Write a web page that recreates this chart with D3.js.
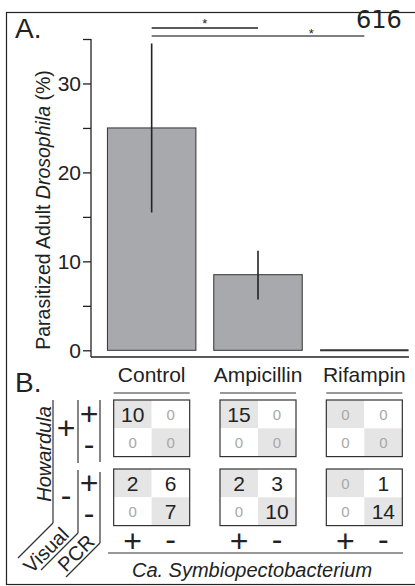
<!DOCTYPE html>
<html>
<head>
<meta charset="utf-8">
<script src="https://cdn.jsdelivr.net/npm/d3@7"></script>
<style>
  body { margin: 0; background: #fff; }
  text { font-family: "Liberation Sans", Arial, sans-serif; fill: #222; }
</style>
</head>
<body>
<script>
// data
const treatments = ["Control", "Ampicillin", "Rifampin"];
const parasitized = [25, 8.5, 0];
const errLow = [15.5, 5.7, 0];
const errHigh = [34.5, 11.2, 0];
const majorTicks = [0, 10, 20, 30];
const allTicks = [0, 5, 10, 15, 20, 25, 30, 35];
const sigPairs = [["Control", "Ampicillin", "*"], ["Control", "Rifampin", "*"]];

// panel B: rows = Howardula visual/PCR, cols = Symbiopectobacterium +/-
const visualLabels = ["+", "-"];
const pcrLabels = ["+", "-"];
const symbLabels = ["+", "-"];
const controlCounts = [[10, 0], [0, 0], [2, 6], [0, 7]];
const ampicillinCounts = [[15, 0], [0, 0], [2, 3], [0, 10]];
const rifampinCounts = [[0, 0], [0, 0], [0, 1], [0, 14]];
const tables = [controlCounts, ampicillinCounts, rifampinCounts];

const width = 415, height = 586;

const svg = d3.select("body").append("svg")
  .attr("width", width)
  .attr("height", height);

// frame
svg.append("rect")
  .attr("x", 6.5).attr("y", 12.5)
  .attr("width", 420).attr("height", 572)
  .attr("fill", "none").attr("stroke", "#222").attr("stroke-width", 1.2);

svg.append("text").attr("x", 356).attr("y", 28)
  .style("font-family", "'DejaVu Sans', sans-serif")
  .style("font-size", "24px").attr("fill", "#111")
  .text("616");

svg.append("text").attr("x", 15).attr("y", 38)
  .style("font-size", "28px").text("A.");
svg.append("text").attr("x", 15).attr("y", 392)
  .style("font-size", "28px").text("B.");

// scales
const y = d3.scaleLinear().domain([0, 35]).range([350.3, 39]);
const x = d3.scaleBand().domain(treatments).range([98.5, 417.5])
  .paddingInner(0.168).paddingOuter(0.084);
const cx = d => x(d) + x.bandwidth() / 2;

// y axis
const yAxis = svg.append("g")
  .attr("transform", "translate(91,0)")
  .call(d3.axisLeft(y).tickValues(allTicks).tickSize(8).tickPadding(2)
    .tickFormat(d => majorTicks.includes(d) ? d : ""));
yAxis.select(".domain").remove();
yAxis.selectAll(".tick line").attr("stroke", "#222").attr("stroke-width", 1.3);
yAxis.selectAll(".tick text")
  .style("font-size", "21px")
  .style("font-family", "'Liberation Sans', Arial, sans-serif")
  .attr("fill", "#222");

const axisBaseY = 357;
svg.append("line").attr("x1", 91).attr("x2", 91)
  .attr("y1", y(35)).attr("y2", axisBaseY)
  .attr("stroke", "#222").attr("stroke-width", 1.3);
svg.append("line").attr("x1", 91).attr("x2", 409)
  .attr("y1", axisBaseY).attr("y2", axisBaseY)
  .attr("stroke", "#222").attr("stroke-width", 1.3);

// y label
const ylab = svg.append("text")
  .attr("transform", `translate(50,${210}) rotate(-90)`)
  .attr("text-anchor", "middle")
  .style("font-size", "19.5px");
ylab.append("tspan").text("Parasitized Adult ");
ylab.append("tspan").style("font-style", "italic").text("Drosophila");
ylab.append("tspan").text(" (%)");

// bars
svg.selectAll(".bar")
  .data(treatments)
  .enter().append("rect")
  .attr("class", "bar")
  .attr("x", d => x(d))
  .attr("width", x.bandwidth())
  .attr("y", (d, i) => y(parasitized[i]))
  .attr("height", (d, i) => y(0) - y(parasitized[i]))
  .attr("fill", "#a8a9ac")
  .attr("stroke", "#333")
  .attr("stroke-width", 1);

// zero-height bars drawn as a flat line
svg.selectAll(".zerobar")
  .data(treatments.filter((d, i) => parasitized[i] === 0))
  .enter().append("line")
  .attr("x1", d => x(d)).attr("x2", d => x(d) + x.bandwidth())
  .attr("y1", y(0)).attr("y2", y(0))
  .attr("stroke", "#333").attr("stroke-width", 2);

// error bars
svg.selectAll(".err")
  .data(treatments.filter((d, i) => errHigh[i] > errLow[i]))
  .enter().append("line")
  .attr("x1", d => cx(d)).attr("x2", d => cx(d))
  .attr("y1", d => y(errHigh[treatments.indexOf(d)]))
  .attr("y2", d => y(errLow[treatments.indexOf(d)]))
  .attr("stroke", "#222").attr("stroke-width", 1.6);

// significance lines; each star sits over the part not covered by the line above
const sigY = [28, 36];
const sigColor = ["#222", "#555"];
let coveredTo = null;
sigPairs.forEach((p, i) => {
  const x1 = cx(p[0]), x2 = cx(p[1]);
  svg.append("line")
    .attr("x1", x1).attr("x2", x2)
    .attr("y1", sigY[i]).attr("y2", sigY[i])
    .attr("stroke", sigColor[i]).attr("stroke-width", 1.4);
  const from = coveredTo === null ? x1 : coveredTo;
  svg.append("text")
    .attr("x", (from + x2) / 2)
    .attr("y", sigY[i] + (i === 0 ? 0 : 2))
    .attr("text-anchor", "middle")
    .style("font-size", "13px")
    .text(p[2]);
  coveredTo = x2;
});

// category labels with underline
treatments.forEach(t => {
  svg.append("text").attr("x", cx(t)).attr("y", 382)
    .attr("text-anchor", "middle").style("font-size", "21px").text(t);
  svg.append("line").attr("x1", cx(t) - 38).attr("x2", cx(t) + 38)
    .attr("y1", 393).attr("y2", 393)
    .attr("stroke", "#333").attr("stroke-width", 1.2);
});

// panel B tables
const groupTop = [400, 469];
const rowH = 28.3;
const colW = 38;
const rowCenter = r => groupTop[Math.floor(r / 2)] + (r % 2) * rowH + rowH / 2;

tables.forEach((tab, ti) => {
  const left = cx(treatments[ti]) - colW;
  const g = svg.append("g");
  tab.forEach((row, r) => {
    row.forEach((v, c) => {
      const top = groupTop[Math.floor(r / 2)] + (r % 2) * rowH;
      g.append("rect")
        .attr("x", left + c * colW).attr("y", top)
        .attr("width", colW).attr("height", rowH)
        .attr("fill", (r % 2) === c ? "#e5e5e6" : "#fff");
      g.append("text")
        .attr("x", left + c * colW + colW / 2)
        .attr("y", rowCenter(r) + (v === 0 ? 5.5 : 7.5))
        .attr("text-anchor", "middle")
        .style("font-size", v === 0 ? "15px" : "21px")
        .style("fill", v === 0 ? "#a8a8a8" : "#222")
        .text(v);
    });
  });
  groupTop.forEach(gt => {
    g.append("rect")
      .attr("x", left).attr("y", gt)
      .attr("width", colW * 2).attr("height", rowH * 2)
      .attr("fill", "none").attr("stroke", "#333").attr("stroke-width", 1.2);
  });
  symbLabels.forEach((s, c) => {
    g.append("text")
      .attr("x", left + c * colW + colW / 2)
      .attr("y", s === "+" ? 552 : 550)
      .attr("text-anchor", "middle")
      .style("font-size", "32px")
      .text(s);
  });
});

// bottom header
svg.append("line").attr("x1", 108).attr("x2", 403)
  .attr("y1", 553).attr("y2", 553)
  .attr("stroke", "#333").attr("stroke-width", 1.2);
svg.append("text").attr("x", 252).attr("y", 577)
  .attr("text-anchor", "middle").style("font-size", "20px")
  .style("font-style", "italic")
  .text("Ca. Symbiopectobacterium");

// left header: Howardula / Visual / PCR
function seg(x1, y1, x2, y2) {
  svg.append("line").attr("x1", x1).attr("y1", y1).attr("x2", x2).attr("y2", y2)
    .attr("stroke", "#333").attr("stroke-width", 1.2);
}
// Visual column separator
seg(53, 400, 53, 523);
seg(53, 523, 18, 558);
// PCR column separators (broken between groups)
seg(78, 400, 78, 463);
seg(78, 470, 78, 533);
seg(78, 533, 41, 570);
seg(100, 400, 100, 462);
seg(100, 472, 100, 543);
seg(100, 543, 66, 577);

svg.append("text")
  .attr("transform", "translate(51,454) rotate(-90)")
  .attr("text-anchor", "middle")
  .style("font-size", "20px").style("font-style", "italic")
  .text("Howardula");

visualLabels.forEach((s, i) => {
  const c = groupTop[i] + rowH;
  svg.append("text").attr("x", 66).attr("y", c + (s === "+" ? 11 : 9))
    .attr("text-anchor", "middle").style("font-size", "32px").text(s);
});
[0, 1, 2, 3].forEach(r => {
  const s = pcrLabels[r % 2];
  svg.append("text").attr("x", 89).attr("y", rowCenter(r) + (s === "+" ? 11 : 13))
    .attr("text-anchor", "middle").style("font-size", "32px").text(s);
});

svg.append("text")
  .attr("transform", "translate(51,555) rotate(-45)")
  .attr("text-anchor", "middle")
  .style("font-size", "20px")
  .text("Visual");
svg.append("text")
  .attr("transform", "translate(81,558) rotate(-45)")
  .attr("text-anchor", "middle")
  .style("font-size", "20px")
  .text("PCR");
</script>
</body>
</html>
